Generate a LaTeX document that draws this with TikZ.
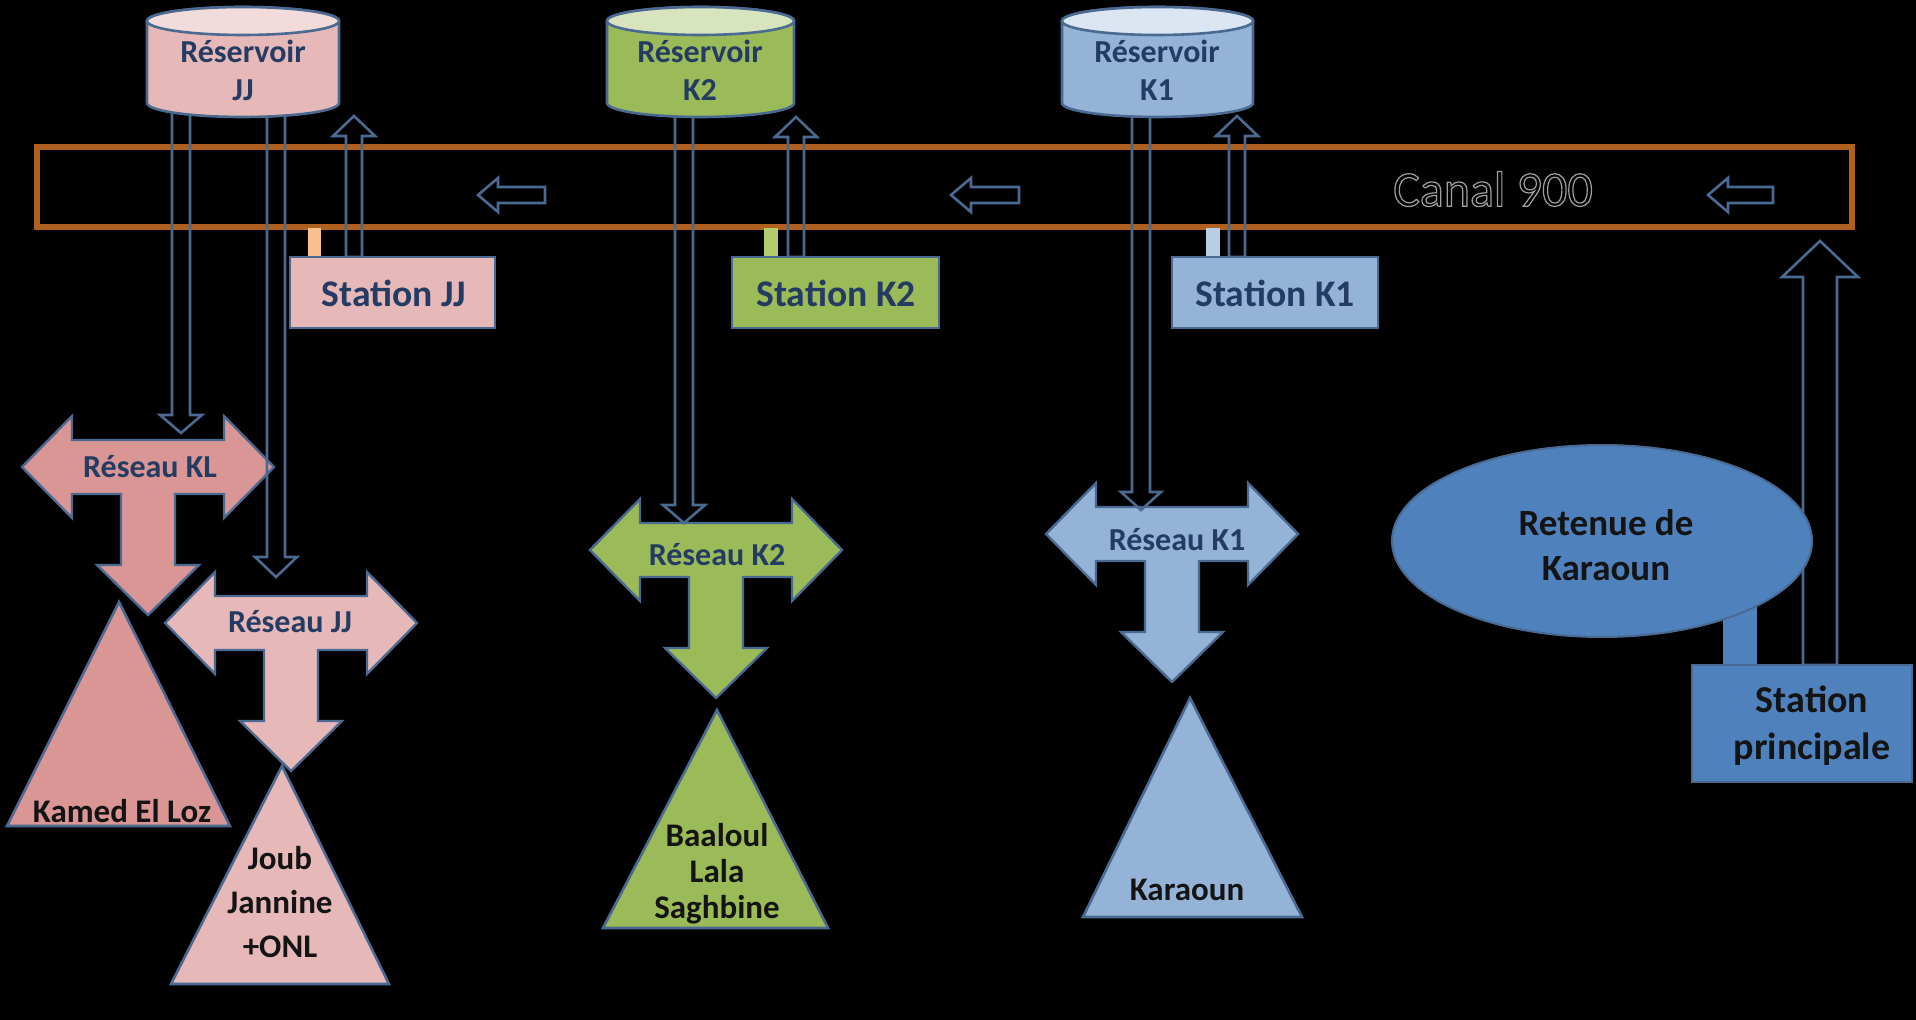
\documentclass[tikz,border=0pt]{standalone}
\usepackage{fontspec}
\setmainfont{Carlito}
\usetikzlibrary{shapes.geometric}
\definecolor{edge}{HTML}{4A6A92}
\definecolor{pinkL}{HTML}{E6B9B8}
\definecolor{pinkLtop}{HTML}{F2DCDB}
\definecolor{pinkD}{HTML}{D99694}
\definecolor{grn}{HTML}{9BBB59}
\definecolor{grntop}{HTML}{D7E4BD}
\definecolor{lblue}{HTML}{95B3D7}
\definecolor{lbluetop}{HTML}{DCE6F2}
\definecolor{mblue}{HTML}{4F81BD}
\definecolor{canalc}{HTML}{B0601F}
\definecolor{navy}{HTML}{243B63}
\definecolor{ink}{HTML}{141414}
\definecolor{tabJJ}{HTML}{FAC090}
\definecolor{tabK2}{HTML}{B5CC6E}
\definecolor{tabK1}{HTML}{B9CDE5}
\definecolor{outl}{HTML}{A0A0A0}
\newcommand\setfs[2]{\fontsize{#1}{#2}\selectfont}
% vertical hollow block arrow: x, tail y, tip y, shaft half, head half, head length
\newcommand\vblk[6]{%
  \pgfmathsetmacro\hbase{#3-sign(#3-#2)*#6}%
  \draw[hol] (#1-#4,#2) -- (#1-#4,\hbase) -- (#1-#5,\hbase) -- (#1,#3) -- (#1+#5,\hbase) -- (#1+#4,\hbase) -- (#1+#4,#2) -- cycle;}
% left-pointing hollow block arrow in the canal: tip x, tail x, y
\newcommand\hblk[3]{%
  \draw[hol] (#2,#3-8) -- (#1+20,#3-8) -- (#1+20,#3-17) -- (#1,#3) -- (#1+20,#3+17) -- (#1+20,#3+8) -- (#2,#3+8) -- cycle;}
% reservoir cylinder: name, left, right, body colour, top colour
\newcommand\reservoir[5]{%
  \pgfmathsetmacro\rcx{(#2+#3)/2}\pgfmathsetmacro\rrx{(#3-#2)/2}%
  \draw[edgec, fill=#4] (#2,21) -- (#2,103) arc[start angle=180, end angle=0, x radius=\rrx, y radius=14] -- (#3,21) arc[start angle=0, end angle=-180, x radius=\rrx, y radius=14] -- cycle;
  \draw[edgec, fill=#5] (\rcx,21) ellipse[x radius=\rrx, y radius=14];
  \coordinate (#1) at (\rcx,62);}
\begin{document}
\begin{tikzpicture}[x=0.5pt,y=-0.5pt,
  edgec/.style={draw=edge, line width=1.3pt},
  hol/.style={draw=edge, line width=1.3pt, line join=miter},
  tarrow/.pic={\draw[pic actions] (-126,0) -- (-76,-51) -- (-76,-27) -- (76,-27) -- (76,-51) -- (126,0) -- (76,51) -- (76,27) -- (27,27) -- (27,98) -- (51,98) -- (0,148) -- (-51,98) -- (-27,98) -- (-27,27) -- (-76,27) -- (-76,51) -- cycle;},
  tshape/.style={draw=edge, line width=1.2pt},
  lbl/.style={font=\bfseries\setfs{16}{19}, text=navy, align=center, inner sep=0pt},
  stlbl/.style={font=\bfseries\setfs{18.8}{23}, text=navy, align=center, inner sep=0pt},
  trilbl/.style={font=\bfseries\setfs{16.5}{18}, text=ink, align=center, inner sep=0pt},
  station/.style={draw=edge, line width=1.2pt, inner sep=0pt, minimum height=35.5pt}
]
\fill[black] (0,0) rectangle (1916,1020);
\useasboundingbox (0,0) rectangle (1916,1020);

% Canal 900
\draw[canalc, line width=3pt] (37,147) rectangle (1852,227);
\node[font=\setfs{25}{30}, text=outl, inner sep=0pt] (canaltxt) at (1493,189)
  {\special{pdf:literal direct 1 Tr 0.6 w}Canal 900\special{pdf:literal direct 0 Tr}};
\hblk{478}{545}{195}
\hblk{951}{1019}{195}
\hblk{1708}{1773}{195}

% T-shaped network arrows
\pic[tshape, fill=pinkD] at (148,467) {tarrow};
\pic[tshape, fill=pinkL] at (291,623) {tarrow};
\pic[tshape, fill=grn] at (716,550) {tarrow};
\pic[tshape, fill=lblue] at (1172,534) {tarrow};
\node[lbl] (rKL) at (150,467) {Réseau KL};
\node[lbl] (rJJ) at (290,622) {Réseau JJ};
\node[lbl] (rK2) at (717,555) {Réseau K2};
\node[lbl] (rK1) at (1177,540) {Réseau K1};

% triangles
\draw[edgec, fill=pinkD] (119,602) -- (230,826) -- (7,826) -- cycle;
\draw[edgec, fill=pinkL] (282,766) -- (389,984) -- (171,984) -- cycle;
\draw[edgec, fill=grn] (717,710) -- (828,928) -- (603,928) -- cycle;
\draw[edgec, fill=lblue] (1190,698) -- (1302,917) -- (1083,917) -- cycle;
\node[trilbl] (tKamed) at (122,811) {Kamed El Loz};
\node[trilbl, font=\bfseries\setfs{16.5}{22}] (tJoub) at (280,902) {Joub\\Jannine\\+ONL};
\node[trilbl] (tBaal) at (717,874) {Baaloul\\Lala\\Saghbine};
\node[trilbl] (tKar) at (1187,890) {Karaoun};

% hollow arrows reservoir -> network
\vblk{181}{112}{433}{9}{21}{18}
\vblk{276}{112}{577}{9}{21}{20}
\vblk{684}{112}{523}{9}{21}{18}
\vblk{1141}{112}{510}{9}{20}{18}
% hollow arrows station -> reservoir
\vblk{354}{257}{116}{8}{21}{20}
\vblk{796}{257}{117}{8}{21}{20}
\vblk{1237}{257}{116}{8}{21}{20}
% main station -> canal
\vblk{1820}{665}{241}{17}{38}{36}

% reservoirs
\reservoir{resJJ}{147}{339}{pinkL}{pinkLtop}
\reservoir{resK2}{607}{794}{grn}{grntop}
\reservoir{resK1}{1062}{1253}{lblue}{lbluetop}
\node[lbl] (tresJJ) at (243,70) {Réservoir\\JJ};
\node[lbl] (tresK2) at (700,70) {Réservoir\\K2};
\node[lbl] (tresK1) at (1157,70) {Réservoir\\K1};

% stations and intake tabs
\fill[tabJJ] (308,228) rectangle (321,257);
\fill[tabK2] (764,228) rectangle (778,257);
\fill[tabK1] (1206,228) rectangle (1220,257);
\node[station, fill=pinkL, minimum width=102.5pt] (stJJ) at (392.5,292.5) {};
\node[station, fill=grn, minimum width=103.5pt] (stK2) at (835.5,292.5) {};
\node[station, fill=lblue, minimum width=103pt] (stK1) at (1275,292.5) {};
\node[stlbl] (tstJJ) at (394,293) {Station JJ};
\node[stlbl] (tstK2) at (836,293) {Station K2};
\node[stlbl] (tstK1) at (1275,293) {Station K1};

% Karaoun reservoir and main station
\fill[mblue] (1723,600) rectangle (1757,667);
\node[ellipse, draw=edge, line width=1pt, fill=mblue, minimum width=210pt, minimum height=96pt, inner sep=0pt] (retenue) at (1602,541) {};
\node[font=\bfseries\setfs{18.5}{22.5}, text=ink, align=center, inner sep=0pt] (tret) at (1606,545) {Retenue de\\Karaoun};
\node[draw=edge, line width=1pt, fill=mblue, minimum width=110pt, minimum height=58.5pt, inner sep=0pt] (stP) at (1802,723.5) {};
\node[font=\bfseries\setfs{19}{23.5}, text=ink, align=center, inner sep=0pt] (tstP) at (1812,726) {Station\\principale};
\end{tikzpicture}
\end{document}
